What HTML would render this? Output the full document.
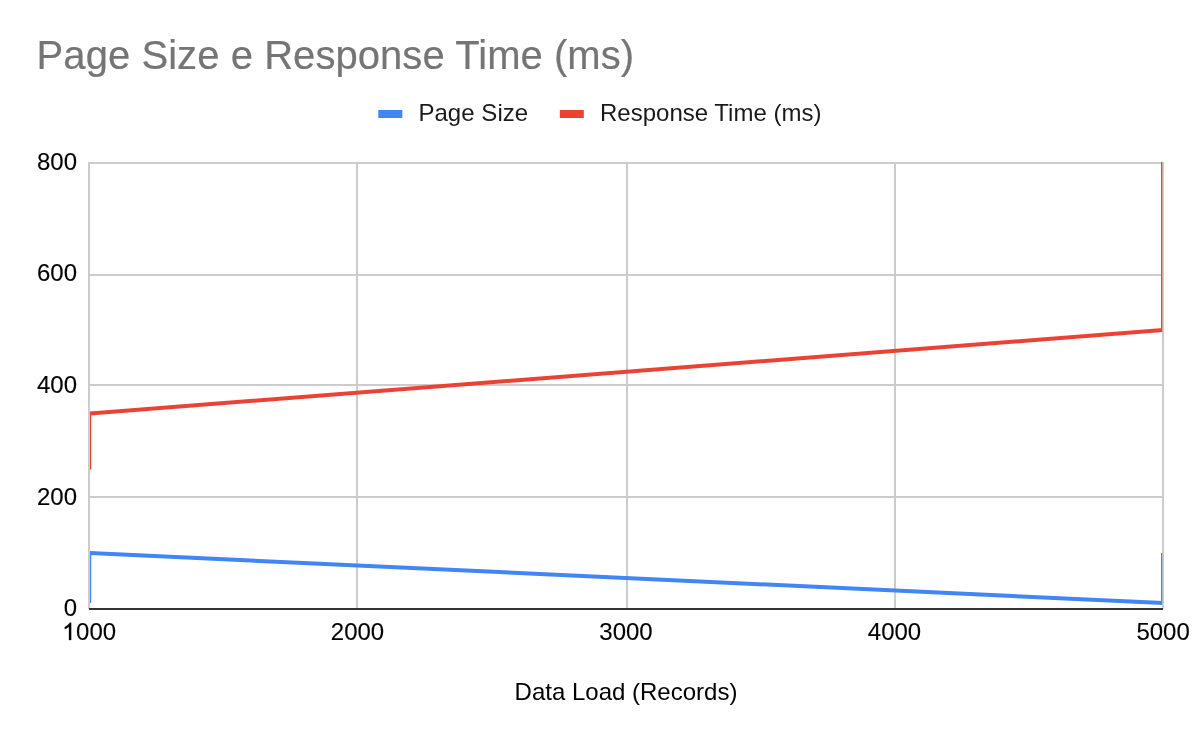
<!DOCTYPE html>
<html>
<head>
<meta charset="utf-8">
<title>Page Size e Response Time (ms)</title>
<style>
html,body{margin:0;padding:0;background:#fff;}
body{width:1200px;height:742px;overflow:hidden;font-family:"Liberation Sans",sans-serif;}
svg{display:block;will-change:transform;}
text{font-family:"Liberation Sans",sans-serif;}
</style>
</head>
<body>
<svg width="1200" height="742" viewBox="0 0 1200 742">
<defs>
<clipPath id="plot"><rect x="90" y="162" width="1072.25" height="447"/></clipPath>
</defs>
<rect x="0" y="0" width="1200" height="742" fill="#ffffff"/>
<!-- title -->
<text x="36.6" y="69" font-size="40" fill="#757575" stroke="#757575" stroke-width="0.2" letter-spacing="0.06">Page Size e Response Time (ms)</text>
<!-- legend -->
<rect x="378.3" y="110" width="24" height="8" fill="#4285f4"/>
<text x="418.4" y="121" font-size="24" fill="#1a1a1a" letter-spacing="0.05">Page Size</text>
<rect x="559.8" y="110" width="24" height="8" fill="#ea4335"/>
<text x="600" y="121" font-size="24" fill="#1a1a1a">Response Time (ms)</text>
<!-- gridlines -->
<g fill="#cccccc">
<rect x="88" y="162" width="2" height="447"/>
<rect x="356" y="162" width="2" height="447"/>
<rect x="626" y="162" width="2" height="447"/>
<rect x="894" y="162" width="2" height="447"/>
<rect x="1162" y="162" width="2" height="447"/>
<rect x="88" y="162" width="1076" height="2"/>
<rect x="88" y="274" width="1076" height="2"/>
<rect x="88" y="384" width="1076" height="2"/>
<rect x="88" y="496" width="1076" height="2"/>
</g>
<rect x="89" y="608" width="1074" height="2" fill="#333333"/>
<!-- series -->
<g clip-path="url(#plot)" fill="none" stroke-width="4">
<path d="M89.2,603 L89.2,553 L1163,603 L1163,553" stroke="#4285f4"/>
<path d="M89.2,469.5 L89.2,413.5 L1163,330 L1163,150" stroke="#ea4335"/>
</g>
<!-- y labels -->
<g font-size="24" fill="#000000" stroke="#000000" stroke-width="0.1" text-anchor="end">
<text x="77" y="170">800</text>
<text x="77" y="281">600</text>
<text x="77" y="393">400</text>
<text x="77" y="505">200</text>
<text x="77" y="616">0</text>
</g>
<!-- x labels -->
<g font-size="24" fill="#000000" stroke="#000000" stroke-width="0.1" text-anchor="middle">
<path transform="translate(62.2,640) scale(0.01171875,-0.01171875)" stroke-width="26" d="M763 0H583V1147Q518 1085 412.5 1023T223 930V1104Q373 1174.5 485.5 1275T645 1470H763Z"/>
<text x="76.05" y="640" text-anchor="start">000</text>
<text x="357.5" y="640">2000</text>
<text x="626" y="640">3000</text>
<text x="894.5" y="640">4000</text>
<text x="1163.1" y="640">5000</text>
</g>
<text x="626" y="700" font-size="24" fill="#000000" text-anchor="middle">Data Load (Records)</text>
</svg>
</body>
</html>
